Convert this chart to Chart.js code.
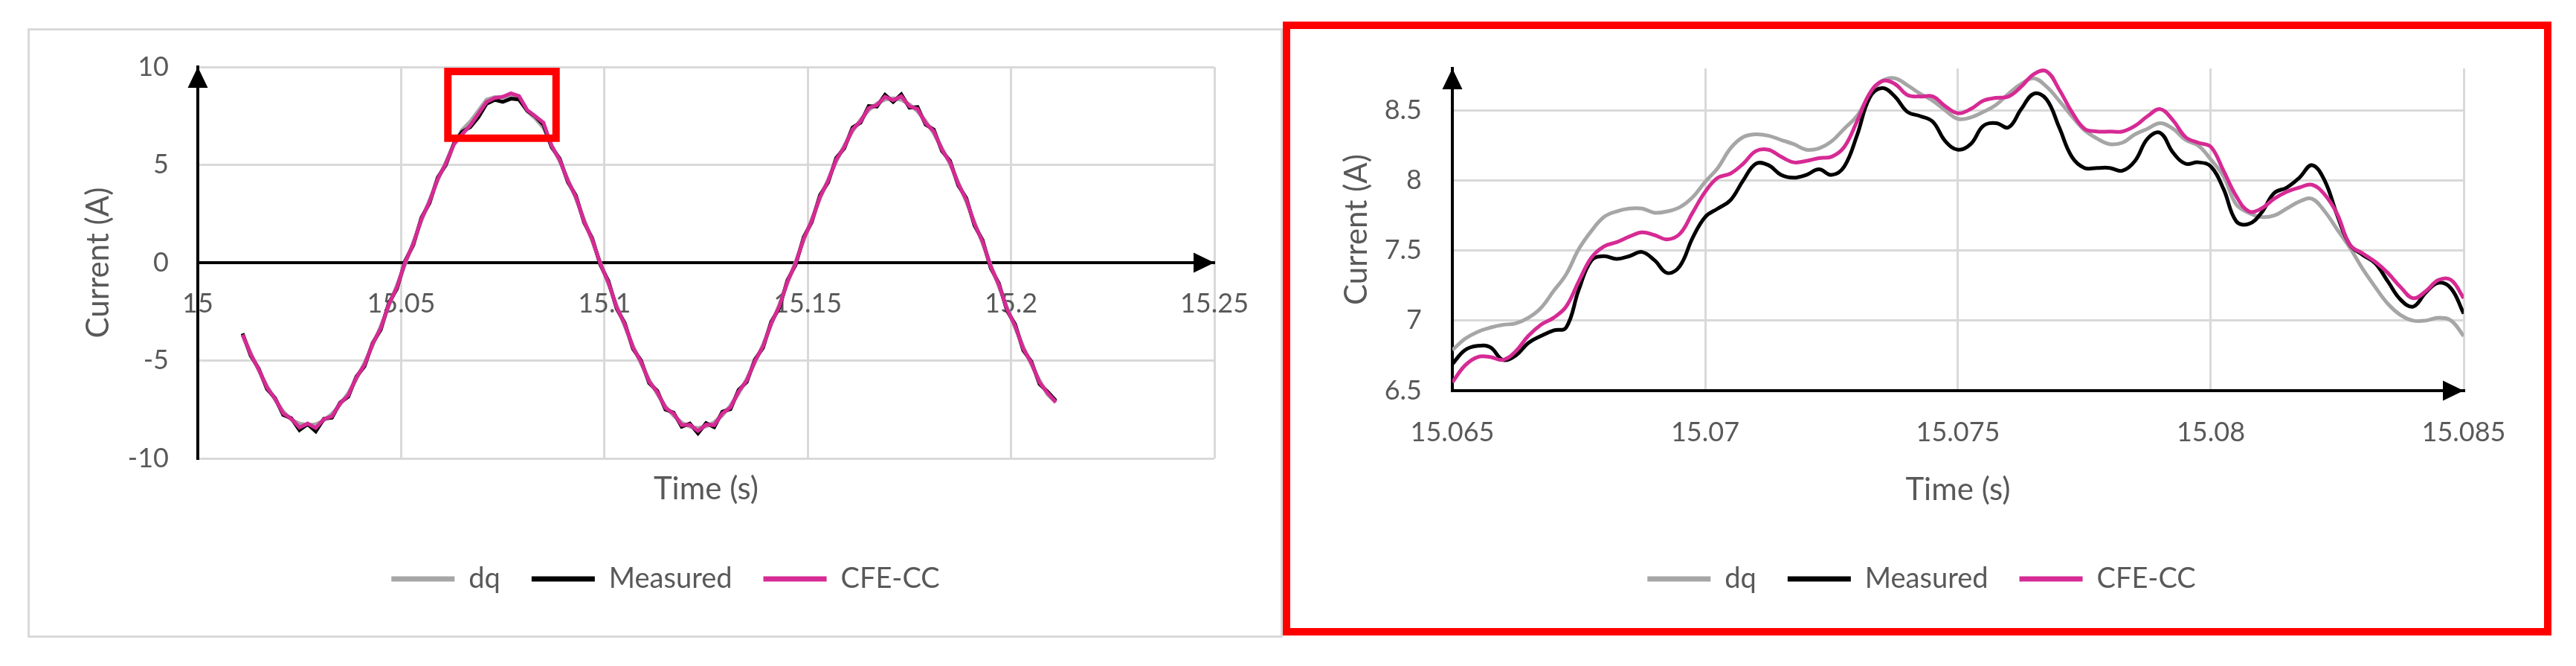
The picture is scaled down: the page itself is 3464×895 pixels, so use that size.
<!DOCTYPE html>
<html>
<head>
<meta charset="utf-8">
<script src="https://cdn.jsdelivr.net/npm/chart.js@4.4.1/dist/chart.umd.min.js"></script>
<style>
  html, body { margin: 0; padding: 0; background: #fff; }
  body { width: 3464px; height: 895px; position: relative; overflow: hidden; }
  .frame { position: absolute; box-sizing: border-box; }
  #full-frame { left: 37px; top: 38px; width: 1688px; height: 819px; border: 3px solid #d9d9d9; }
  #zoom-frame { left: 1725px; top: 29px; width: 1706px; height: 825px; border: 10px solid #ff0000; }
  canvas { position: absolute; }
  #full-chart { left: 40px; top: 41px; }
  #zoom-chart { left: 1735px; top: 39px; }
</style>
</head>
<body>
<div class="frame" id="full-frame"></div>
<div class="frame" id="zoom-frame"></div>
<canvas id="full-chart" width="1682" height="813"></canvas>
<canvas id="zoom-chart" width="1686" height="805"></canvas>
<script>
// Whole view, 15.011 .. 15.211 s
const fullTime = [
  15.011, 15.013, 15.015, 15.017, 15.019, 15.021, 15.023, 15.025, 15.027, 15.029,
  15.031, 15.033, 15.035, 15.037, 15.039, 15.041, 15.043, 15.045, 15.047, 15.049,
  15.051, 15.053, 15.055, 15.057, 15.059, 15.061, 15.063, 15.065, 15.067, 15.069,
  15.071, 15.073, 15.075, 15.077, 15.079, 15.081, 15.083, 15.085, 15.087, 15.089,
  15.091, 15.093, 15.095, 15.097, 15.099, 15.101, 15.103, 15.105, 15.107, 15.109,
  15.111, 15.113, 15.115, 15.117, 15.119, 15.121, 15.123, 15.125, 15.127, 15.129,
  15.131, 15.133, 15.135, 15.137, 15.139, 15.141, 15.143, 15.145, 15.147, 15.149,
  15.151, 15.153, 15.155, 15.157, 15.159, 15.161, 15.163, 15.165, 15.167, 15.169,
  15.171, 15.173, 15.175, 15.177, 15.179, 15.181, 15.183, 15.185, 15.187, 15.189,
  15.191, 15.193, 15.195, 15.197, 15.199, 15.201, 15.203, 15.205, 15.207, 15.209,
  15.211
];
const fullDq = [
  -3.70, -4.62, -5.50, -6.30, -7.00, -7.60, -8.02, -8.22, -8.30, -8.26,
  -8.06, -7.72, -7.25, -6.66, -5.94, -5.12, -4.22, -3.24, -2.21, -1.14,
  -0.06, 1.05, 2.15, 3.21, 4.21, 5.14, 6.08, 6.79, 7.21, 7.77,
  8.33, 8.46, 8.44, 8.57, 8.41, 7.74, 7.37, 6.89, 6.02, 5.18,
  4.26, 3.27, 2.20, 1.10, 0.00, -1.10, -2.19, -3.24, -4.24, -5.16,
  -5.99, -6.71, -7.33, -7.81, -8.17, -8.38, -8.45, -8.37, -8.15, -7.80,
  -7.30, -6.68, -5.94, -5.11, -4.19, -3.19, -2.15, -1.05, 0.03, 1.15,
  2.23, 3.27, 4.25, 5.17, 5.99, 6.71, 7.31, 7.79, 8.13, 8.34,
  8.40, 8.32, 8.09, 7.73, 7.23, 6.60, 5.86, 5.03, 4.11, 3.12,
  2.07, 0.99, -0.11, -1.21, -2.29, -3.32, -4.30, -5.21, -6.02, -6.74,
  -7.15
];
const fullMeasured = [
  -3.62, -4.75, -5.42, -6.45, -6.92, -7.78, -7.95, -8.55, -8.25, -8.62,
  -7.98, -7.92, -7.15, -6.85, -5.82, -5.30, -4.10, -3.42, -2.05, -1.32,
  0.10, 0.90, 2.30, 3.05, 4.35, 5.00, 6.10, 6.69, 6.93, 7.43,
  8.12, 8.32, 8.22, 8.38, 8.34, 7.77, 7.47, 7.05, 5.90, 5.32,
  4.12, 3.42, 2.05, 1.25, -0.12, -0.95, -2.35, -3.08, -4.40, -5.00,
  -6.15, -6.55, -7.50, -7.66, -8.38, -8.22, -8.72, -8.20, -8.40, -7.62,
  -7.48, -6.50, -6.10, -4.95, -4.35, -3.02, -2.32, -0.90, -0.12, 1.30,
  2.08, 3.45, 4.10, 5.35, 5.85, 6.90, 7.16, 8.00, 7.98, 8.58,
  8.22, 8.60, 7.92, 7.95, 7.05, 6.80, 5.70, 5.20, 3.95, 3.30,
  1.90, 1.15, -0.28, -1.05, -2.45, -3.15, -4.48, -5.05, -6.20, -6.60,
  -7.05
];
const fullCfe = [
  -3.68, -4.68, -5.46, -6.38, -6.95, -7.70, -7.98, -8.42, -8.22, -8.45,
  -8.00, -7.85, -7.18, -6.78, -5.86, -5.22, -4.14, -3.35, -2.11, -1.25,
  0.04, 0.96, 2.24, 3.12, 4.29, 5.06, 6.05, 6.56, 7.02, 7.61,
  8.21, 8.42, 8.48, 8.65, 8.51, 7.80, 7.48, 7.16, 5.96, 5.26,
  4.18, 3.36, 2.10, 1.19, -0.06, -1.02, -2.28, -3.14, -4.33, -5.06,
  -6.08, -6.61, -7.43, -7.71, -8.30, -8.28, -8.60, -8.27, -8.30, -7.70,
  -7.40, -6.58, -6.03, -5.02, -4.28, -3.10, -2.24, -0.97, -0.05, 1.23,
  2.14, 3.37, 4.17, 5.27, 5.91, 6.82, 7.22, 7.91, 8.05, 8.48,
  8.30, 8.50, 7.99, 7.86, 7.12, 6.72, 5.77, 5.13, 4.02, 3.22,
  1.98, 1.08, -0.20, -1.12, -2.38, -3.23, -4.40, -5.12, -6.12, -6.66,
  -7.12
];

// Zoomed view, 15.065 .. 15.085 s
const zoomTime = [
  15.06500, 15.06525, 15.06550, 15.06575, 15.06600, 15.06625, 15.06650, 15.06675, 15.06700, 15.06725,
  15.06750, 15.06775, 15.06800, 15.06825, 15.06850, 15.06875, 15.06900, 15.06925, 15.06950, 15.06975,
  15.07000, 15.07025, 15.07050, 15.07075, 15.07100, 15.07125, 15.07150, 15.07175, 15.07200, 15.07225,
  15.07250, 15.07275, 15.07300, 15.07325, 15.07350, 15.07375, 15.07400, 15.07425, 15.07450, 15.07475,
  15.07500, 15.07525, 15.07550, 15.07575, 15.07600, 15.07625, 15.07650, 15.07675, 15.07700, 15.07725,
  15.07750, 15.07775, 15.07800, 15.07825, 15.07850, 15.07875, 15.07900, 15.07925, 15.07950, 15.07975,
  15.08000, 15.08025, 15.08050, 15.08075, 15.08100, 15.08125, 15.08150, 15.08175, 15.08200, 15.08225,
  15.08250, 15.08275, 15.08300, 15.08325, 15.08350, 15.08375, 15.08400, 15.08425, 15.08450, 15.08475,
  15.08500
];
const zoomDq = [
  6.79, 6.87, 6.92, 6.95, 6.97, 6.98, 7.02, 7.09, 7.21, 7.33,
  7.51, 7.64, 7.74, 7.78, 7.80, 7.80, 7.77, 7.78, 7.81, 7.88,
  7.99, 8.09, 8.23, 8.31, 8.33, 8.32, 8.29, 8.26, 8.22, 8.23,
  8.28, 8.37, 8.46, 8.61, 8.71, 8.73, 8.68, 8.62, 8.57, 8.50,
  8.44, 8.45, 8.49, 8.54, 8.62, 8.69, 8.73, 8.67, 8.57, 8.46,
  8.36, 8.30, 8.26, 8.27, 8.33, 8.37, 8.41, 8.37, 8.29, 8.25,
  8.15, 8.03, 7.83, 7.77, 7.74, 7.75, 7.80, 7.85, 7.87, 7.78,
  7.65, 7.52, 7.37, 7.24, 7.12, 7.04, 7.00, 7.00, 7.02, 7.00,
  6.89
];
const zoomMeasured = [
  6.69, 6.79, 6.82, 6.81, 6.72, 6.75, 6.84, 6.89, 6.93, 6.95,
  7.22, 7.43, 7.46, 7.44, 7.46, 7.49, 7.43, 7.34, 7.39, 7.59,
  7.74, 7.80, 7.86, 8.00, 8.12, 8.11, 8.04, 8.02, 8.04, 8.08,
  8.04, 8.10, 8.32, 8.59, 8.66, 8.60, 8.49, 8.46, 8.42, 8.28,
  8.22, 8.26, 8.39, 8.41, 8.38, 8.51, 8.62, 8.58, 8.38, 8.17,
  8.09, 8.09, 8.09, 8.07, 8.14, 8.30, 8.34, 8.20, 8.12, 8.13,
  8.10, 7.94, 7.71, 7.69, 7.77, 7.91, 7.95, 8.02, 8.11, 8.00,
  7.75, 7.54, 7.47, 7.41, 7.28, 7.15, 7.10, 7.20, 7.27, 7.23,
  7.05
];
const zoomCfe = [
  6.56, 6.68, 6.74, 6.74, 6.72, 6.78, 6.89, 6.97, 7.02, 7.10,
  7.28, 7.45, 7.53, 7.56, 7.60, 7.63, 7.61, 7.58, 7.62, 7.77,
  7.92, 8.02, 8.05, 8.12, 8.21, 8.22, 8.17, 8.13, 8.14, 8.16,
  8.17, 8.24, 8.42, 8.62, 8.71, 8.69, 8.61, 8.60, 8.60, 8.53,
  8.48, 8.51, 8.57, 8.59, 8.60, 8.67, 8.76, 8.78, 8.65, 8.49,
  8.37, 8.35, 8.35, 8.35, 8.39, 8.46, 8.51, 8.43, 8.31, 8.27,
  8.24, 8.07, 7.89, 7.78, 7.80, 7.87, 7.92, 7.95, 7.97, 7.90,
  7.76, 7.54, 7.48, 7.42, 7.34, 7.24, 7.16, 7.21, 7.29, 7.29,
  7.16
];

const fullTimeTicks = [15, 15.05, 15.1, 15.15, 15.2, 15.25];
const fullCurrentTicks = [-10, -5, 0, 5, 10];
const zoomTimeTicks = [15.065, 15.07, 15.075, 15.08, 15.085];
const zoomCurrentTicks = [6.5, 7, 7.5, 8, 8.5];

// Red box marking the zoomed region on the full view (data units)
const zoomMarker = { xMin: 15.0615, xMax: 15.0881, yMin: 6.36, yMax: 9.77 };

const FONT = "Lato, 'Liberation Sans', sans-serif";
const TEXT = "#595959";
const GRID = "#d9d9d9";
const COLORS = { dq: "#a6a6a6", measured: "#000000", cfe: "#d62a94" };

Chart.defaults.font.family = FONT;
Chart.defaults.color = TEXT;

const toPoints = (time, values) => time.map((t, i) => ({ x: t, y: values[i] }));
const fixedTicks = (values) => (axis) => {
  axis.ticks = values.map((value) => ({ value }));
};
// fixed axis size, and no extra edge padding pushed into the layout
const fixedSize = (size) => (s) => {
  if (size !== undefined) {
    if (s.isHorizontal()) s.height = size;
    else s.width = size;
  }
  s.paddingTop = s.paddingBottom = s.paddingLeft = s.paddingRight = 0;
};

function buildDatasets(time, dq, measured, cfe, tension) {
  // order keeps CFE-CC on top, then Measured, then dq
  return [
    { label: "dq", data: toPoints(time, dq), borderColor: COLORS.dq, order: 3 },
    { label: "Measured", data: toPoints(time, measured), borderColor: COLORS.measured, order: 2 },
    { label: "CFE-CC", data: toPoints(time, cfe), borderColor: COLORS.cfe, order: 1 },
  ].map((d) => ({
    ...d,
    backgroundColor: d.borderColor,
    borderWidth: 5,
    pointRadius: 0,
    tension,
    fill: false,
  }));
}

const legendOptions = {
  position: "bottom",
  labels: {
    boxWidth: 85,
    boxHeight: 7,
    padding: 42,
    color: TEXT,
    font: { size: 38 },
    sort: (a, b) => a.datasetIndex - b.datasetIndex,
    generateLabels: (chart) =>
      Chart.defaults.plugins.legend.labels
        .generateLabels(chart)
        .map((item) => ({ ...item, fillStyle: item.strokeStyle, lineWidth: 0 })),
  },
};

// Arrow heads on the axes, the red marker box, legend nudge
const axisDecor = {
  id: "axisDecor",
  afterLayout(chart, args, opts) {
    const dx = opts.legendShift || 0;
    chart.legend.left += dx;
    chart.legend.right += dx;
  },
  afterDraw(chart, args, opts) {
    const { ctx, chartArea: area, scales } = chart;
    const lineY = opts.xAt === undefined ? area.bottom : scales.y.getPixelForValue(opts.xAt);
    ctx.save();
    ctx.fillStyle = "#000";
    ctx.beginPath();
    ctx.moveTo(area.left, area.top);
    ctx.lineTo(area.left - 13.5, area.top + 28);
    ctx.lineTo(area.left + 13.5, area.top + 28);
    ctx.closePath();
    ctx.fill();
    ctx.beginPath();
    ctx.moveTo(area.right, lineY);
    ctx.lineTo(area.right - 28, lineY - 13.5);
    ctx.lineTo(area.right - 28, lineY + 13.5);
    ctx.closePath();
    ctx.fill();
    if (opts.marker) {
      const m = opts.marker;
      const x1 = scales.x.getPixelForValue(m.xMin);
      const x2 = scales.x.getPixelForValue(m.xMax);
      const y1 = scales.y.getPixelForValue(m.yMax);
      const y2 = scales.y.getPixelForValue(m.yMin);
      ctx.strokeStyle = "#ff0000";
      ctx.lineWidth = 10;
      ctx.strokeRect(x1, y1, x2 - x1, y2 - y1);
    }
    ctx.restore();
  },
};

const tickFont = { size: 36 };
const titleFont = { size: 42 };
const label = (v) => String(v);

new Chart(document.getElementById("full-chart"), {
  type: "line",
  data: { datasets: buildDatasets(fullTime, fullDq, fullMeasured, fullCfe, 0) },
  plugins: [axisDecor],
  options: {
    responsive: false,
    animation: false,
    devicePixelRatio: 1,
    layout: { padding: { left: 67, right: 89, top: 49, bottom: 47 } },
    plugins: {
      legend: legendOptions,
      tooltip: { enabled: false },
      axisDecor: { xAt: 0, marker: zoomMarker, legendShift: 25 },
    },
    scales: {
      x: {
        type: "linear",
        min: 15,
        max: 15.25,
        afterBuildTicks: fixedTicks(fullTimeTicks),
        afterFit: fixedSize(101),
        grid: { color: GRID, lineWidth: 3, drawTicks: false },
        border: { display: false },
        ticks: { display: false },
        title: { display: true, text: "Time (s)", font: titleFont, padding: { top: 0, bottom: 34 } },
      },
      xZero: {
        type: "linear",
        axis: "x",
        position: { y: 0 },
        min: 15,
        max: 15.25,
        afterBuildTicks: fixedTicks(fullTimeTicks),
        afterFit: fixedSize(),
        grid: { display: false, drawTicks: false },
        border: { color: "#000", width: 4 },
        ticks: { padding: 34, font: tickFont, callback: label },
      },
      y: {
        type: "linear",
        min: -10,
        max: 10,
        afterBuildTicks: fixedTicks(fullCurrentTicks),
        afterFit: fixedSize(159),
        grid: { color: GRID, lineWidth: 3, drawTicks: false },
        border: { color: "#000", width: 4 },
        ticks: { padding: 39, font: tickFont, callback: label },
        title: { display: true, text: "Current (A)", font: titleFont, padding: 0 },
      },
    },
  },
});

new Chart(document.getElementById("zoom-chart"), {
  type: "line",
  data: { datasets: buildDatasets(zoomTime, zoomDq, zoomMeasured, zoomCfe, 0.4) },
  plugins: [axisDecor],
  options: {
    responsive: false,
    animation: false,
    devicePixelRatio: 1,
    layout: { padding: { left: 64, right: 108, top: 53, bottom: 37 } },
    plugins: {
      legend: legendOptions,
      tooltip: { enabled: false },
      axisDecor: { legendShift: 28 },
    },
    scales: {
      x: {
        type: "linear",
        min: 15.065,
        max: 15.085,
        afterBuildTicks: fixedTicks(zoomTimeTicks),
        afterFit: fixedSize(192),
        grid: { color: GRID, lineWidth: 3, drawTicks: false },
        border: { color: "#000", width: 4 },
        ticks: { padding: 35, font: tickFont, callback: label },
        title: { display: true, text: "Time (s)", font: titleFont, padding: { top: 0, bottom: 33 } },
      },
      y: {
        type: "linear",
        min: 6.5,
        max: 8.8,
        afterBuildTicks: fixedTicks(zoomCurrentTicks),
        afterFit: fixedSize(154),
        grid: { color: GRID, lineWidth: 3, drawTicks: false },
        border: { color: "#000", width: 4 },
        ticks: { padding: 41, font: tickFont, callback: label },
        title: { display: true, text: "Current (A)", font: titleFont, padding: 0 },
      },
    },
  },
});
</script>
</body>
</html>
